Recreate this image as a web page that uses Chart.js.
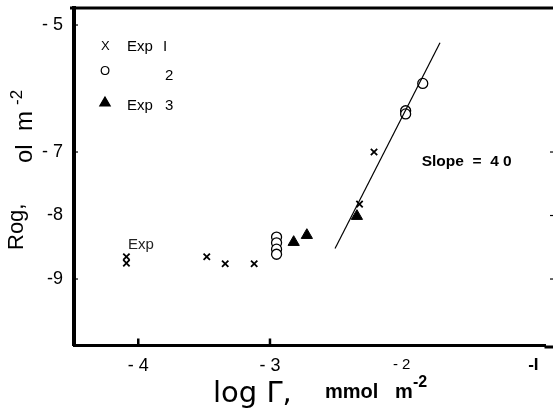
<!DOCTYPE html>
<html>
<head>
<meta charset="utf-8">
<script src="https://cdn.jsdelivr.net/npm/chart.js@4.4.1/dist/chart.umd.min.js"></script>
<style>
  html, body { margin: 0; padding: 0; background: #fff; }
  #wrap { width: 553px; height: 411px; position: relative; }
</style>
</head>
<body>
<div id="wrap"><canvas id="slopeChart"></canvas></div>
<script>
// values (x = log Γ, y = left axis)
const exp1X = [-4.09, -4.09, -3.48, -3.34, -3.12, -2.32, -2.21];
const exp1Y = [-8.65, -8.75, -8.65, -8.76, -8.76, -7.82, -7.00];
const exp2X = [-2.95, -2.95, -2.95, -2.95, -1.97, -1.97, -1.84];
const exp2Y = [-8.34, -8.43, -8.53, -8.61, -6.35, -6.40, -5.92];
const exp3X = [-2.82, -2.72, -2.34];
const exp3Y = [-8.42, -8.31, -8.01];
// slope 4.0 line
const fitX = [-2.506, -1.709];
const fitY = [-8.52, -5.28];

const xTicks = [-4, -3, -2, -1];
const xTickLabels = ['- 4', '- 3', '- 2', '-I'];
const yTicks = [-5, -7, -8, -9];
const yTickLabels = ['- 5', '- 7', '-8', '-9'];

const narrow = "'Liberation Sans Narrow', 'Liberation Sans', Arial, sans-serif";
const sans = "'Liberation Sans', Arial, sans-serif";

function pts(xs, ys) {
    return xs.map((x, i) => ({x: x, y: ys[i]}));
}

// frame, inward ticks, legend, labels
const overlay = {
    id: 'overlay',
    afterDraw(chart) {
        const ctx = chart.ctx, a = chart.chartArea;
        const xs = chart.scales.x, ys = chart.scales.y;
        ctx.save();
        ctx.strokeStyle = '#000';
        ctx.fillStyle = '#000';

        // top frame line, and bottom axis carried to the edge
        ctx.lineWidth = 3;
        ctx.beginPath();
        ctx.moveTo(a.left - 4, a.top);
        ctx.lineTo(chart.width, a.top);
        ctx.moveTo(a.right - 1, a.bottom + 1.5);
        ctx.lineTo(chart.width, a.bottom + 1.5);
        ctx.stroke();

        // ticks on bottom axis
        ctx.lineWidth = 2.5;
        [-4, -3].forEach(v => {
            const px = xs.getPixelForValue(v);
            ctx.beginPath();
            ctx.moveTo(px, a.bottom);
            ctx.lineTo(px, a.bottom - 7);
            ctx.stroke();
        });
        // small ticks on left and right
        ctx.lineWidth = 1.2;
        [-5, -7, -9].forEach(v => {
            const py = ys.getPixelForValue(v);
            ctx.beginPath();
            ctx.moveTo(a.left - 2, py);
            ctx.lineTo(a.left + 4, py);
            ctx.stroke();
        });
        [-7, -8, -9].forEach(v => {
            const py = ys.getPixelForValue(v);
            ctx.beginPath();
            ctx.moveTo(chart.width - 3, py);
            ctx.lineTo(chart.width, py);
            ctx.stroke();
        });

        // legend
        ctx.textBaseline = 'middle';
        ctx.textAlign = 'left';
        ctx.font = '13px ' + sans;
        ctx.fillText('X', 101, 46);
        ctx.fillText('O', 100, 71);
        ctx.font = '15px ' + sans;
        ctx.fillText('Exp', 127, 47);
        ctx.fillText('I', 163, 47);
        ctx.fillText('2', 165, 76);
        ctx.fillText('Exp', 127, 106);
        ctx.fillText('3', 165, 106);
        Chart.helpers.drawPoint(ctx, {pointStyle: 'triangle', radius: 6, borderWidth: 1}, 105, 103);
        ctx.fill();

        // annotations
        ctx.fillStyle = '#222';
        ctx.font = '15px ' + sans;
        ctx.fillText('Exp', xs.getPixelForValue(-4.078), ys.getPixelForValue(-8.46));
        ctx.fillStyle = '#000';
        ctx.font = 'bold 15.5px ' + sans;
        ctx.fillText('Slope  =  4 0', xs.getPixelForValue(-1.848), ys.getPixelForValue(-7.15));

        // x title
        ctx.textBaseline = 'alphabetic';
        ctx.font = "29px 'DejaVu Sans', sans-serif";
        ctx.fillText('log Γ,', 213, 402);
        ctx.font = 'bold 20px ' + sans;
        ctx.fillText('mmol', 325, 398);
        ctx.fillText('m', 395, 398);
        ctx.font = 'bold 16px ' + sans;
        ctx.fillText('-2', 413, 387);

        // y title (rotated)
        ctx.save();
        ctx.translate(23, 250);
        ctx.rotate(-Math.PI / 2);
        ctx.font = '22px ' + sans;
        ctx.fillText('Rog,', 0, 0);
        ctx.restore();
        ctx.save();
        ctx.translate(32, 163);
        ctx.rotate(-Math.PI / 2);
        ctx.font = '24px ' + sans;
        ctx.fillText('ol  m', 0, 0);
        ctx.font = '17px ' + sans;
        ctx.fillText('-2', 58, -10);
        ctx.restore();

        ctx.restore();
    }
};

const ctxEl = document.getElementById('slopeChart').getContext('2d');
const slopeChart = new Chart(ctxEl, {
    type: 'scatter',
    data: {
        datasets: [{
            label: 'Slope',
            type: 'line',
            data: pts(fitX, fitY),
            borderColor: '#000',
            borderWidth: 1.2,
            pointRadius: 0,
            fill: false
        }, {
            label: 'Exp I',
            data: pts(exp1X, exp1Y),
            pointStyle: 'crossRot',
            pointRadius: 4.5,
            borderColor: '#000',
            borderWidth: 1.8
        }, {
            label: '2',
            data: pts(exp2X, exp2Y),
            pointStyle: 'circle',
            pointRadius: 5,
            backgroundColor: '#fff',
            borderColor: '#000',
            borderWidth: 1.3
        }, {
            label: 'Exp 3',
            data: pts(exp3X, exp3Y),
            pointStyle: 'triangle',
            pointRadius: 6.5,
            backgroundColor: '#000',
            borderColor: '#000',
            borderWidth: 1
        }]
    },
    options: {
        responsive: true,
        maintainAspectRatio: false,
        animation: false,
        devicePixelRatio: 1,
        layout: {padding: {left: 0, right: 0, top: 8, bottom: 0}},
        plugins: {
            legend: {display: false},
            tooltip: {enabled: false}
        },
        scales: {
            x: {
                type: 'linear',
                min: -4.488,
                max: -0.908,
                afterBuildTicks: s => { s.ticks = xTicks.map(v => ({value: v})); },
                afterFit: s => { s.height = 65.5; s.paddingLeft = 0; s.paddingRight = 0; },
                grid: {display: false, drawTicks: false},
                border: {display: true, color: '#000', width: 3},
                ticks: {
                    padding: 10,
                    color: '#000',
                    font: c => {
                        const v = c.tick && c.tick.value;
                        if (v === -2) return {family: narrow, size: 15};
                        if (v === -1) return {family: sans, size: 17, weight: 'bold'};
                        return {family: narrow, size: 18};
                    },
                    callback: v => xTickLabels[xTicks.indexOf(v)]
                }
            },
            y: {
                type: 'linear',
                min: -10.047,
                max: -4.732,
                afterBuildTicks: s => { s.ticks = yTicks.map(v => ({value: v})); },
                afterFit: s => { s.width = 74; s.paddingTop = 0; s.paddingBottom = 0; },
                grid: {display: false, drawTicks: false},
                border: {display: true, color: '#000', width: 4},
                ticks: {
                    padding: 11,
                    color: '#000',
                    font: {family: narrow, size: 18},
                    callback: v => yTickLabels[yTicks.indexOf(v)]
                }
            }
        }
    },
    plugins: [overlay]
});
</script>
</body>
</html>
